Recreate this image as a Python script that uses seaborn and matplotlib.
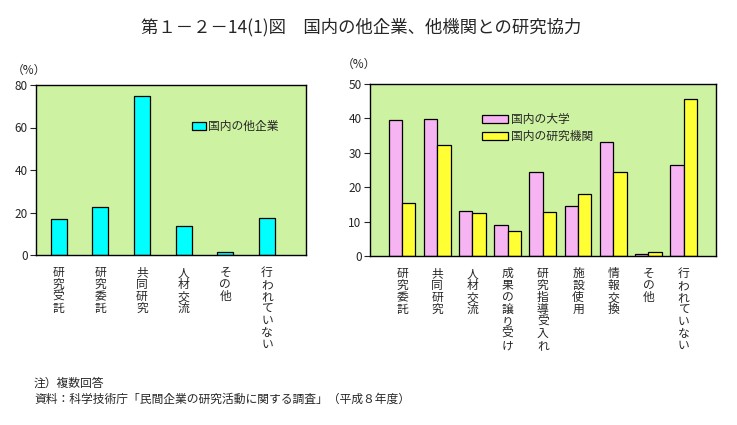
import matplotlib
matplotlib.use("Agg")
import matplotlib.pyplot as plt
import pandas as pd
import seaborn as sns

sns.set_theme(style="white")
plt.rcParams['font.family'] = ['Noto Sans CJK JP', 'DejaVu Sans']

# left chart: 国内の他企業
left_cats = ["研究受託", "研究委託", "共同研究", "人材交流", "その他", "行われていない"]
left_vals = [16.9, 22.5, 74.8, 13.7, 1.5, 17.4]

# right chart: 大学 / 研究機関
right_cats = ["研究委託", "共同研究", "人材交流", "成果の譲り受け", "研究指導受入れ",
              "施設使用", "情報交換", "その他", "行われていない"]
univ = [39.5, 39.7, 13.1, 9.0, 24.4, 14.5, 33.1, 0.6, 26.4]
inst = [15.4, 32.2, 12.5, 7.3, 12.8, 18.0, 24.4, 1.2, 45.6]

bg = "#cdf2a2"
W, H = 737, 425
fig = plt.figure(figsize=(W / 100, H / 100), dpi=100)

def vert(s):
    return "\n".join(s)

def style_ax(ax):
    ax.set_facecolor(bg)
    for sp in ax.spines.values():
        sp.set_visible(True)
        sp.set_color("black")
        sp.set_linewidth(1.0)
    ax.set_xlabel("")
    ax.set_ylabel("")
    ax.tick_params(axis="y", left=True, length=4, width=0.8, labelsize=8.5, pad=2)
    ax.tick_params(axis="x", bottom=False, labelsize=8.5, pad=2)

# ---- left
ax1 = fig.add_axes([36 / W, 1 - 255 / H, 270 / W, 170 / H])
sns.barplot(x=left_cats, y=left_vals, color="#00ffff", edgecolor="black",
            linewidth=0.9, width=0.38, saturation=1, ax=ax1, label="国内の他企業")
ax1.set_ylim(0, 80)
ax1.set_yticks([0, 20, 40, 60, 80])
ax1.set_xlim(-0.544, 5.936)
ax1.set_xticks(range(len(left_cats)))
ax1.set_xticklabels([vert(c) for c in left_cats], linespacing=0.9, va="top")
style_ax(ax1)
ax1.legend(loc="upper left", bbox_to_anchor=(0.56, 0.82), frameon=False,
           fontsize=8.5, handlelength=1.2, handleheight=0.7, handletextpad=0.2,
           borderaxespad=0)
fig.text(12 / W, 1 - 70 / H, "（%）", fontsize=8.5, va="center")

# ---- right
df = pd.DataFrame({
    "cat": right_cats * 2,
    "val": univ + inst,
    "grp": ["国内の大学"] * len(univ) + ["国内の研究機関"] * len(inst),
})
ax2 = fig.add_axes([370 / W, 1 - 256 / H, 346 / W, 172 / H])
sns.barplot(data=df, x="cat", y="val", hue="grp",
            palette={"国内の大学": "#f7b4f2", "国内の研究機関": "#ffff33"},
            edgecolor="black", linewidth=0.9, width=0.76, gap=0, saturation=1, ax=ax2)
ax2.set_ylim(0, 50)
ax2.set_yticks([0, 10, 20, 30, 40, 50])
ax2.set_xlim(-0.91, 8.92)
ax2.set_xticks(range(len(right_cats)))
ax2.set_xticklabels([vert(c) for c in right_cats], linespacing=0.9, va="top")
style_ax(ax2)
ax2.legend(loc="upper left", bbox_to_anchor=(0.31, 0.86), frameon=False,
           fontsize=8.5, handlelength=2.2, handleheight=0.7, handletextpad=0.3,
           labelspacing=0.35, borderaxespad=0, title=None)
fig.text(342 / W, 1 - 64 / H, "（%）", fontsize=8.5, va="center")

# ---- titles and notes
fig.text(361 / W, 1 - 27 / H, "第１－２－14(1)図　国内の他企業、他機関との研究協力",
         fontsize=12.5, ha="center", va="center")
fig.text(34 / W, 1 - 383 / H, "注）複数回答", fontsize=8.5, va="center")
fig.text(34 / W, 1 - 399 / H,
         "資料：科学技術庁「民間企業の研究活動に関する調査」（平成８年度）",
         fontsize=8.5, va="center")

fig.savefig("out.png", dpi=100, facecolor="white")
